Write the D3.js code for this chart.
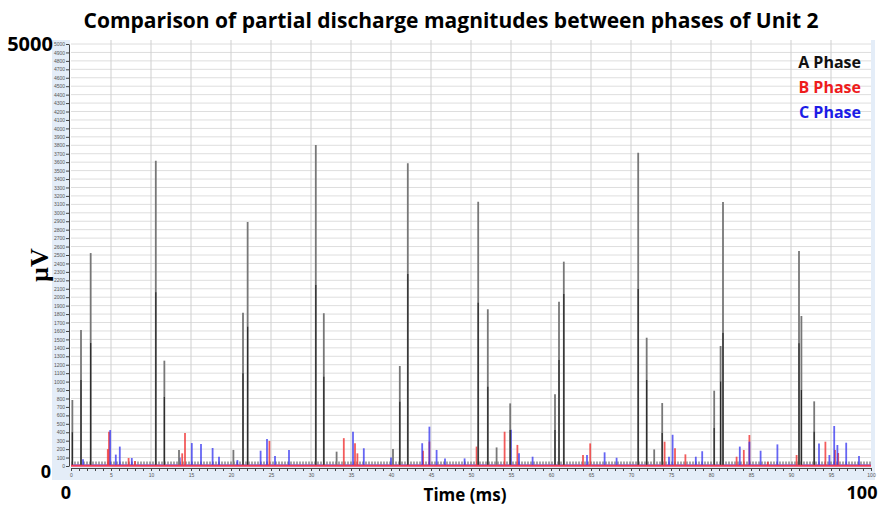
<!DOCTYPE html>
<html>
<head>
<meta charset="utf-8">
<script src="https://cdn.jsdelivr.net/npm/d3@7"></script>
<style>
  body { margin: 0; background: #fff; }
  svg text { font-family: "Open Sans", "DejaVu Sans", sans-serif; }
</style>
</head>
<body>
<svg id="chart"></svg>
<script>
// A phase spikes: time (ms), peak (µV), darker inner sample (µV)
const aTimes = [0.17, 1.25, 2.46, 10.6, 11.67, 13.5, 20.3, 21.5, 22.08, 30.6, 31.6, 33.2, 40.25, 41.1, 42.1,
  50.9, 52.1, 53.2, 54.9, 60.5, 61.0, 61.6, 70.9, 71.96, 72.9, 73.9, 80.4, 81.2, 81.5, 91.0, 91.3, 92.9];
const aPeaks = [782, 1611, 2523, 3617, 1248, 190, 190, 1817, 2891, 3803, 1810, 170, 200, 1185, 3586,
  3132, 1857, 220, 742, 850, 1947, 2421, 3712, 1520, 197, 746, 892, 1422, 3128, 2547, 1777, 766];
const aInner = [400, 1020, 1457, 2060, 818, 0, 0, 1100, 1650, 2144, 1058, 0, 0, 762, 2275,
  1935, 940, 0, 426, 426, 1256, 2038, 2097, 1020, 0, 390, 450, 1000, 1575, 1453, 900, 406];

// B phase spikes
const bTimes = [4.6, 4.75, 7.2, 8.0, 13.9, 14.25, 24.8, 34.1, 35.5, 35.8, 44.0, 44.8, 50.7, 54.2, 55.8,
  64.0, 64.9, 74.2, 75.5, 76.8, 83.2, 84.1, 84.8, 87.1, 90.7, 94.3, 95.5, 95.9];
const bPeaks = [200, 406, 95, 60, 150, 390, 296, 330, 270, 150, 180, 290, 230, 406, 250,
  130, 268, 288, 209, 138, 110, 190, 367, 50, 130, 288, 190, 154];

// C phase spikes
const cTimes = [1.5, 4.9, 5.6, 6.1, 7.6, 13.6, 15.1, 16.25, 17.7, 18.5, 20.8, 23.7, 24.5, 25.5, 27.25,
  35.25, 36.6, 40.0, 43.9, 44.8, 45.7, 46.75, 49.2, 55.0, 56.0, 57.7, 64.5, 66.7, 68.2, 74.75, 75.2,
  78.1, 78.9, 83.6, 84.8, 86.2, 88.3, 93.5, 94.8, 95.4, 95.8, 96.9, 98.5];
const cPeaks = [80, 426, 135, 230, 95, 100, 272, 260, 213, 110, 70, 181, 320, 118, 190,
  407, 210, 100, 270, 466, 190, 90, 90, 430, 150, 110, 130, 162, 98, 110, 370,
  110, 175, 230, 288, 181, 256, 268, 130, 474, 249, 276, 118];

// noise floor of each phase
const baseLevels = { A: 35, B: 4, C: 16 };

const phaseNames = ["A Phase", "B Phase", "C Phase"];
const phaseColors = ["#111111", "#ee1c1c", "#1c1ce6"];

const xTicks = d3.range(0, 101, 1);
const xLabels = d3.range(0, 101, 5);
const yTicks = d3.range(0, 5001, 100);

const w = 880;
const h = 506;

const svg = d3.select("#chart")
  .attr("width", w)
  .attr("height", h);

const x = d3.scaleLinear().domain([0, 100]).range([71, 871]);
const y = d3.scaleLinear().domain([0, 5000]).range([466, 44]);

// light blue frame of the embedded plot
svg.append("rect")
  .attr("x", 52).attr("y", 40)
  .attr("width", 823).attr("height", 440)
  .attr("fill", "#e4edf8");

svg.append("rect")
  .attr("x", 70).attr("y", 40)
  .attr("width", 801).attr("height", 427)
  .attr("fill", "#fff");

// grid
svg.append("g")
  .selectAll("line")
  .data(yTicks.slice(1))
  .enter().append("line")
  .attr("x1", x(0)).attr("x2", x(100))
  .attr("y1", d => y(d)).attr("y2", d => y(d))
  .attr("stroke", "#dedede")
  .attr("stroke-width", 1);

svg.append("g")
  .selectAll("line")
  .data(xLabels.slice(1, -1))
  .enter().append("line")
  .attr("x1", d => x(d)).attr("x2", d => x(d))
  .attr("y1", y(5000) - 4).attr("y2", y(0))
  .attr("stroke", "#cfcfcf")
  .attr("stroke-width", 1);

// spikes
function drawSpikes(times, peaks, color, width, opacity) {
  svg.append("g")
    .selectAll("line")
    .data(times.map((t, i) => ({ t: t, v: peaks[i] })).filter(d => d.v > 0))
    .enter().append("line")
    .attr("x1", d => x(d.t)).attr("x2", d => x(d.t))
    .attr("y1", y(0)).attr("y2", d => y(d.v))
    .attr("stroke", color)
    .attr("stroke-width", width)
    .attr("stroke-opacity", opacity);
}

// noise floors
svg.append("line")
  .attr("x1", x(0)).attr("x2", x(100))
  .attr("y1", y(baseLevels.A)).attr("y2", y(baseLevels.A))
  .attr("stroke", "#6a6a6a").attr("stroke-width", 3).attr("stroke-opacity", 0.6)
  .attr("stroke-dasharray", "2,1");
svg.append("line")
  .attr("x1", x(0)).attr("x2", x(100))
  .attr("y1", y(baseLevels.C)).attr("y2", y(baseLevels.C))
  .attr("stroke", phaseColors[2]).attr("stroke-width", 1.5).attr("stroke-opacity", 0.45);

drawSpikes(bTimes, bPeaks, "#f03232", 1.8, 0.8);
drawSpikes(cTimes, cPeaks, "#3232f0", 1.8, 0.75);
drawSpikes(aTimes, aPeaks, "#777777", 1.8, 1);
drawSpikes(aTimes, aInner, "#2a2a2a", 1.2, 1);

svg.append("line")
  .attr("x1", x(0)).attr("x2", x(100))
  .attr("y1", y(baseLevels.B)).attr("y2", y(baseLevels.B))
  .attr("stroke", "#f03c5a").attr("stroke-width", 2);

// axes
const yAxis = svg.append("g")
  .attr("transform", "translate(69,0)")
  .call(d3.axisLeft(y).tickValues(yTicks).tickSize(3).tickSizeOuter(0)
    .tickFormat(d3.format("d")));

const xAxis = svg.append("g")
  .attr("transform", "translate(0,468)")
  .call(d3.axisBottom(x).tickValues(xTicks).tickSize(3).tickSizeOuter(0)
    .tickFormat(d => d % 5 === 0 ? d : ""));

[yAxis, xAxis].forEach(a => {
  a.select(".domain").attr("stroke", "#444");
  a.selectAll(".tick line").attr("stroke", "#444");
  a.selectAll("text")
    .attr("fill", "#555")
    .style("font-size", "5px")
    .style("font-family", "Arial, sans-serif");
});
yAxis.selectAll("text").attr("x", -4);
xAxis.selectAll("text").attr("y", 5);

// title and big labels
svg.append("text")
  .attr("x", 451).attr("y", 28)
  .attr("text-anchor", "middle")
  .style("font-size", "21px").style("font-weight", "bold")
  .text("Comparison of partial discharge magnitudes between phases of Unit 2");

svg.append("text")
  .attr("x", 30).attr("y", 51)
  .attr("text-anchor", "middle")
  .style("font-size", "20px").style("font-weight", "bold")
  .text("5000");

svg.append("text")
  .attr("x", 46).attr("y", 478)
  .attr("text-anchor", "middle")
  .style("font-size", "18px").style("font-weight", "bold")
  .text("0");

svg.append("text")
  .attr("x", 66).attr("y", 499)
  .attr("text-anchor", "middle")
  .style("font-size", "18px").style("font-weight", "bold")
  .text("0");

svg.append("text")
  .attr("x", 862).attr("y", 499)
  .attr("text-anchor", "middle")
  .style("font-size", "18px").style("font-weight", "bold")
  .text("100");

svg.append("text")
  .attr("x", 465).attr("y", 501)
  .attr("text-anchor", "middle")
  .style("font-size", "17px").style("font-weight", "bold")
  .text("Time (ms)");

svg.append("text")
  .attr("transform", "translate(48,265) rotate(-90)")
  .attr("text-anchor", "middle")
  .style("font-family", "'Liberation Serif', 'DejaVu Serif', serif")
  .style("font-size", "26px").style("font-weight", "bold")
  .text("µV");

// legend
svg.append("g")
  .selectAll("text")
  .data(phaseNames)
  .enter().append("text")
  .attr("x", 861)
  .attr("y", (d, i) => 68 + i * 25)
  .attr("text-anchor", "end")
  .attr("fill", (d, i) => phaseColors[i])
  .style("font-size", "16px").style("font-weight", "bold")
  .text(d => d);
</script>
</body>
</html>
